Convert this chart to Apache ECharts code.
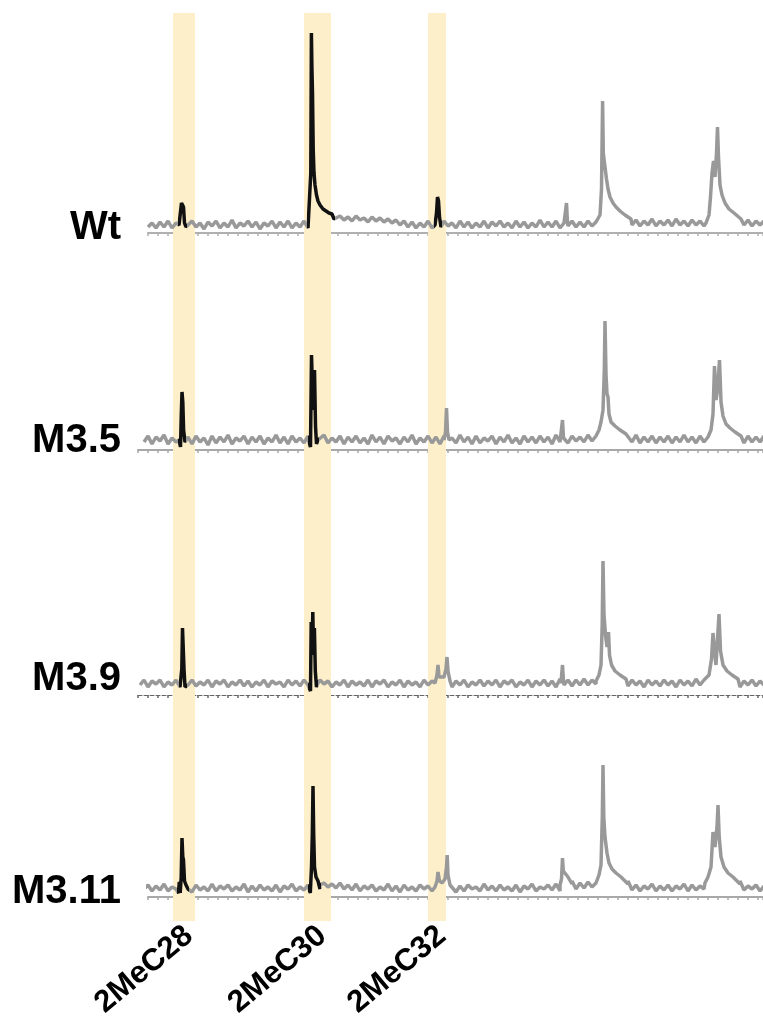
<!DOCTYPE html>
<html>
<head>
<meta charset="utf-8">
<title>2MeC chromatograms</title>
<script src="https://cdn.jsdelivr.net/npm/echarts@6/dist/echarts.min.js"></script>
<style>
  html, body { margin: 0; padding: 0; background: #fff; }
  #chart { width: 763px; height: 1027px; }
</style>
</head>
<body>
<div id="chart"></div>
<script>
// 样品名和标记化合物
const samples = ['Wt', 'M3.5', 'M3.9', 'M3.11'];
const compounds = ['2MeC28', '2MeC30', '2MeC32'];
// 高亮区间（扫描号）
const bands = [[25, 47], [156, 183], [280, 298]];

// 基线噪声：从 start 开始每 4 个扫描取一个值
const scanStep = 4;
const wtStart = 0;
const wtBase = [
  3, 5, 2.5, 5.5, 3, 6, 2.5, 5, 3.5, 5.5,
  2.5, 6, 3, 5, 2, 5.5, 3.5, 6, 2.5, 5,
  3, 6.5, 2.5, 5, 3.5, 6, 3, 5.5, 2, 5,
  3.5, 6, 2.5, 5.5, 3, 6, 2.5, 5, 3, 6,
  2.5, 5.5, 3, 6, 3.5, 5, 8, 7, 8.5, 6.5,
  8, 6, 8.5, 6.5, 7.5, 5.5, 8, 6, 7.5, 5.5,
  7, 5, 6.5, 4, 6, 3, 5.5, 2.5, 5, 3,
  6, 2.5, 5.5, 3, 6, 3.5, 5, 2.5, 6, 3,
  5.5, 2.5, 5, 3, 6, 2.5, 5.5, 3.5, 6, 3,
  5, 2.5, 6, 3, 5.5, 2.5, 5, 3, 6.5, 3,
  5.5, 3, 6, 2.5, 5, 3.5, 6, 3, 5.5, 3,
  6, 3.5, 5.5, 3, 6, 3.5, 6.5, 3, 6, 4,
  7, 4, 6.5, 3.5, 6, 4, 7, 3.5, 6, 4,
  6.5, 3.5, 7, 4, 6, 3.5, 6.5, 4, 6, 3.5,
  6.5, 4, 7, 3.5, 6, 4, 6.5, 3.5, 6, 4,
  6.5, 3.5, 6, 4, 6
];
const wtPeaks = [
  [[31, 4], [32.5, 3], [33.5, 15], [34.5, 14.5], [35.5, 13], [36.5, 5], [38, 3]],
  [[161, 3], [162, 2], [162.8, 30], [163.4, 100], [163.9, 83], [164.5, 70], [165.2, 42], [166, 30], [167, 24],
   [168.5, 19], [170, 16], [172, 14], [175, 12], [178, 11], [181, 10], [184, 9.5], [186, 7]],
  [[287, 4], [288.5, 10], [289.5, 18], [290.5, 16], [291.5, 8], [293, 3]],
  [[417, 4], [418.5, 15], [419.5, 5]],
  [[450, 6], [452, 9], [453.5, 22], [454.6, 66], [455.3, 40], [456, 37], [457, 33], [458.5, 27], [460, 22],
   [462, 18], [465, 15], [468, 13], [472, 11], [477, 9], [483, 7]],
  [[558, 5], [561, 9], [562.5, 18], [564, 30], [565.5, 36], [567, 28], [568.5, 40], [569.5, 53], [570.5, 38],
   [572, 24], [574, 19], [577, 15], [581, 12], [586, 10], [593, 7]]
];
const wtBlack = [[30, 39], [159, 187], [286, 294]];

const m35Start = -4;
const m35Base = [
  4, 7, 3, 6.5, 4.5, 7.5, 3, 6, 4, 7,
  3.5, 6.5, 3, 7, 4, 6, 2.5, 7, 3.5, 6.5,
  4, 7.5, 3, 6, 4.5, 7, 3, 6.5, 4, 7,
  3, 6, 4, 7.5, 3.5, 6.5, 3, 7, 4, 6,
  3.5, 7, 3, 6.5, 4, 7.5, 3.5, 6, 4, 7,
  3, 6.5, 4, 7, 3.5, 6, 3, 7.5, 4, 6.5,
  3, 7, 4.5, 6, 3, 6.5, 4, 7.5, 3, 6,
  4, 7, 3.5, 6.5, 3, 7, 4, 6, 3.5, 7.5,
  4, 6.5, 3, 7, 3.5, 6, 4.5, 7, 3, 6.5,
  4, 7.5, 3.5, 6, 3, 7, 4, 6.5, 3.5, 7,
  4, 6.5, 3, 7.5, 4, 6, 3.5, 7, 4.5, 6.5,
  4, 7.5, 4.5, 7, 4, 8, 5, 7.5, 4.5, 8,
  4.5, 7, 4, 7.5, 3.5, 6.5, 4, 7, 3.5, 6.5,
  4, 7, 3.5, 6.5, 4, 7.5, 4, 6.5, 3.5, 7,
  4, 6.5, 3.5, 7, 4, 6.5, 3.5, 7, 4, 6.5,
  3.5, 7, 4, 6.5, 4, 7
];
const m35Peaks = [
  [[31, 5], [32.5, 1.5], [33.3, 18], [34, 29], [34.8, 24], [35.6, 10], [37, 4]],
  [[161, 4], [162.5, 1.5], [163.5, 47.5], [164.5, 30], [165.5, 20], [166.5, 40], [167.5, 12], [168.5, 3], [170, 5]],
  [[296, 5], [297.5, 9], [298.5, 21], [299.5, 9], [301, 5]],
  [[413, 5], [414.5, 15], [415.5, 6]],
  [[448, 7], [451, 10], [453, 14], [455, 20], [456.3, 40], [457, 64.5], [458, 38], [459, 28], [460, 26.5],
   [461, 18], [463, 14], [467, 12], [472, 10], [478, 8]],
  [[560, 6], [563, 10], [565, 18], [566.5, 42], [568, 25], [569.5, 30], [571.5, 45], [573, 24], [575, 17],
   [578, 13], [582, 11], [587, 9], [593, 7]]
];
const m35Black = [[30, 38], [160, 171]];

const m39Start = -8;
const m39Base = [
  5, 7.5, 4, 7, 5.5, 7.5, 4, 6.5, 5, 7.5,
  4, 7, 5, 7.5, 4.5, 6.5, 5, 7.5, 4, 7,
  5.5, 7.5, 4, 6.5, 5, 7.5, 4.5, 7, 4, 6.5,
  5, 7.5, 4, 7, 5.5, 6.5, 4, 7.5, 5, 7,
  4.5, 7.5, 5, 6.5, 4, 7.5, 5.5, 7, 4, 6.5,
  5, 7.5, 4, 7, 5, 6.5, 4.5, 7.5, 4, 7,
  5.5, 7.5, 4, 6.5, 5, 7.5, 4, 7, 5, 6.5,
  4, 7.5, 5, 7, 4.5, 6.5, 5, 7.5, 4, 7,
  5, 7.5, 4, 6.5, 5, 7.5, 4.5, 7, 5, 7.5,
  4, 7, 5.5, 7.5, 4, 6.5, 5, 7.5, 4, 7,
  5, 7.5, 4.5, 7, 4, 8, 5, 7.5, 4.5, 7.5,
  5, 8, 5, 7.5, 5.5, 8.5, 5, 8, 5.5, 9,
  5, 8, 4.5, 7.5, 5, 7, 4, 7.5, 5, 7,
  4.5, 7.5, 5, 7, 4, 7.5, 5, 7, 4.5, 8,
  5, 7.5, 4, 7, 5, 7.5, 4.5, 7, 5, 7.5,
  4, 7, 5, 7.5, 4.5, 7, 5
];
const m39Peaks = [
  [[32, 5], [33, 3], [33.8, 13], [34.5, 33.5], [35.3, 33], [36, 13], [37, 4], [38.5, 5]],
  [[161, 5], [162.5, 2], [163.2, 36.5], [164, 20], [164.8, 41.5], [165.6, 20], [166.4, 33.5], [167.3, 12], [168.5, 4], [170, 6]],
  [[287, 6], [289, 10], [290, 15], [291, 9], [293, 8], [296, 9], [298, 13], [299, 19], [300, 12], [302, 7]],
  [[413, 6], [414.5, 15], [415.5, 7]],
  [[448, 7], [451, 10], [453, 15], [454.2, 35], [455, 67], [456, 40], [457.5, 30], [459, 24], [460.5, 31.5],
   [461.5, 20], [463.5, 15], [467, 12], [472, 10], [478, 8]],
  [[558, 7], [561, 10], [563.5, 18], [565, 31], [566.5, 22], [568, 15], [569.5, 28], [571, 40.5], [572.5, 22],
   [575, 15], [579, 12], [584, 10], [590, 8]]
];
const m39Black = [[31, 39], [160, 170]];

const m311Start = -4;
const m311Base = [
  4, 6, 3, 5.5, 3.5, 6.5, 3, 5, 4, 6,
  3, 5.5, 2.5, 6, 3.5, 5, 3, 6.5, 3, 5.5,
  4, 6, 3, 5, 3.5, 6.5, 2.5, 5.5, 3, 6,
  3.5, 5, 3, 6, 2.5, 5.5, 4, 6.5, 3, 5,
  3.5, 6, 3, 5.5, 4, 7, 5, 6.5, 4.5, 7,
  4, 6, 3.5, 6.5, 3, 5.5, 4, 6, 3, 5,
  3.5, 6.5, 3, 5.5, 2.5, 6, 3.5, 5, 3, 6,
  4, 5.5, 3, 6.5, 3, 5, 3.5, 6, 2.5, 5.5,
  3, 6, 4, 5, 3, 6.5, 3.5, 5.5, 3, 6,
  3.5, 5, 3, 6, 2.5, 5.5, 4, 6.5, 3, 5,
  4, 6, 3.5, 6.5, 3, 7, 4, 6.5, 4, 7,
  4.5, 7.5, 5, 7, 4.5, 7.5, 5, 8, 4.5, 7,
  4, 6.5, 3.5, 6, 3, 5.5, 4, 6.5, 3, 5.5,
  3.5, 6, 3, 5.5, 4, 6.5, 3, 6, 3.5, 5.5,
  4, 6, 3, 6.5, 3.5, 5.5, 4, 6, 3, 6.5,
  3.5, 5.5, 4, 6, 3, 5.5
];
const m311Peaks = [
  [[29.5, 4], [30.5, 2], [31.3, 7.5], [32.2, 2], [33.2, 10], [34, 29.5], [34.8, 20], [35.5, 18.5], [36.5, 8], [38, 6], [40, 4]],
  [[161, 4], [162.3, 2], [163.5, 15], [164.3, 31], [165, 55.5], [165.7, 31], [166.5, 15], [168, 10], [170, 8], [172, 6]],
  [[287, 5], [289, 8], [290, 12.5], [291.5, 8], [294, 7], [297, 9], [298.5, 15], [299.2, 21], [300, 11], [302, 6]],
  [[412, 6], [413.5, 9], [414.5, 19.5], [415.3, 13], [417, 12], [420, 10], [424, 8]],
  [[448, 8], [451, 11], [453, 16], [454.3, 40], [455, 66], [455.8, 40], [457, 30], [459, 22], [461, 17],
   [464, 14], [468, 12], [473, 10], [480, 8]],
  [[557, 7], [560, 10], [563, 15], [565, 32.5], [567, 25], [569, 35], [570, 46], [571.2, 30], [573, 20],
   [576, 15], [580, 12], [585, 10], [592, 8]]
];
const m311Black = [[29, 41], [160, 173]];

// 把基线和峰拼成一条曲线（峰区间内的基线点去掉）
function buildTrace(start, base, peaks) {
  const spans = peaks.map(p => [p[0][0], p[p.length - 1][0]]);
  const pts = base
    .map((v, i) => [start + i * scanStep, v])
    .filter(([x]) => !spans.some(s => x > s[0] && x < s[1]));
  peaks.forEach(p => pts.push(...p));
  pts.sort((a, b) => a[0] - b[0]);
  return pts;
}

const traces = [
  buildTrace(wtStart, wtBase, wtPeaks),
  buildTrace(m35Start, m35Base, m35Peaks),
  buildTrace(m39Start, m39Base, m39Peaks),
  buildTrace(m311Start, m311Base, m311Peaks)
];
const blackRanges = [wtBlack, m35Black, m39Black, m311Black];

// 布局
const rows = [
  { axisY: 233, left: 148, min: 0, labelY: 228, axisColor: '#b0b0b0', axisType: 'solid' },
  { axisY: 450, left: 138, min: -10, labelY: 441, axisColor: '#a8a8a8', axisType: 'solid' },
  { axisY: 695, left: 138, min: -10, labelY: 679, axisColor: '#666', axisType: 'dashed' },
  { axisY: 897, left: 148, min: 0, labelY: 892, axisColor: '#a8a8a8', axisType: 'solid' }
];
const rowHeight = 200;
const scanMax = 615;
const grey = '#999999';
const font = 'Liberation Sans, Arial, sans-serif';

const myChart = echarts.init(document.getElementById('chart'));

const grids = rows.map(r => ({ left: r.left, right: 0, top: r.axisY - rowHeight, height: rowHeight }));
grids.push({ left: 148, right: 0, top: 13, bottom: 1027 - 921 });

const xAxes = rows.map((r, i) => ({
  type: 'value',
  gridIndex: i,
  min: r.min,
  max: scanMax,
  interval: 10,
  axisLine: { show: true, lineStyle: { color: r.axisColor, width: r.axisType === 'dashed' ? 1 : 2, type: r.axisType } },
  axisTick: { show: true, length: 3, lineStyle: { color: r.axisColor, width: 1.5 } },
  axisLabel: { show: false },
  splitLine: { show: false }
}));
xAxes.push({ type: 'value', gridIndex: 4, min: 0, max: scanMax, show: false });

const yAxes = rows.map((r, i) => ({ type: 'value', gridIndex: i, min: 0, max: 100, show: false }));
yAxes.push({ type: 'value', gridIndex: 4, min: 0, max: 1, show: false });

const series = traces.map((data, i) => ({
  name: samples[i],
  type: 'line',
  xAxisIndex: i,
  yAxisIndex: i,
  data: data,
  symbol: 'none',
  sampling: 'none',
  lineStyle: { width: 3.5 },
  z: 3
}));
series.push({
  type: 'line',
  xAxisIndex: 4,
  yAxisIndex: 4,
  data: [],
  z: 1,
  markArea: {
    silent: true,
    itemStyle: { color: '#fdefc9' },
    data: bands.map(b => [{ xAxis: b[0] }, { xAxis: b[1] }])
  }
});

const visualMaps = blackRanges.map((ranges, i) => ({
  type: 'piecewise',
  show: false,
  dimension: 0,
  seriesIndex: i,
  pieces: ranges.map(r => ({ gte: r[0], lte: r[1], color: '#111' })),
  outOfRange: { color: grey }
}));

myChart.setOption({
  animation: false,
  grid: grids,
  xAxis: xAxes,
  yAxis: yAxes,
  visualMap: visualMaps,
  series: series
});

// 文字
const graphics = samples.map((s, i) => ({
  type: 'text',
  x: 121,
  y: rows[i].labelY,
  style: { text: s, font: 'bold 40px ' + font, fill: '#000', align: 'right', verticalAlign: 'middle' }
}));
compounds.forEach((c, i) => {
  const mid = (bands[i][0] + bands[i][1]) / 2;
  const px = myChart.convertToPixel({ gridIndex: 4 }, [mid, 0]);
  graphics.push({
    type: 'text',
    x: px[0] - 5,
    y: 920,
    rotation: 40 * Math.PI / 180,
    style: { text: c, font: 'bold 31px ' + font, fill: '#000', align: 'right', verticalAlign: 'top' }
  });
});
myChart.setOption({ graphic: graphics });
</script>
</body>
</html>
